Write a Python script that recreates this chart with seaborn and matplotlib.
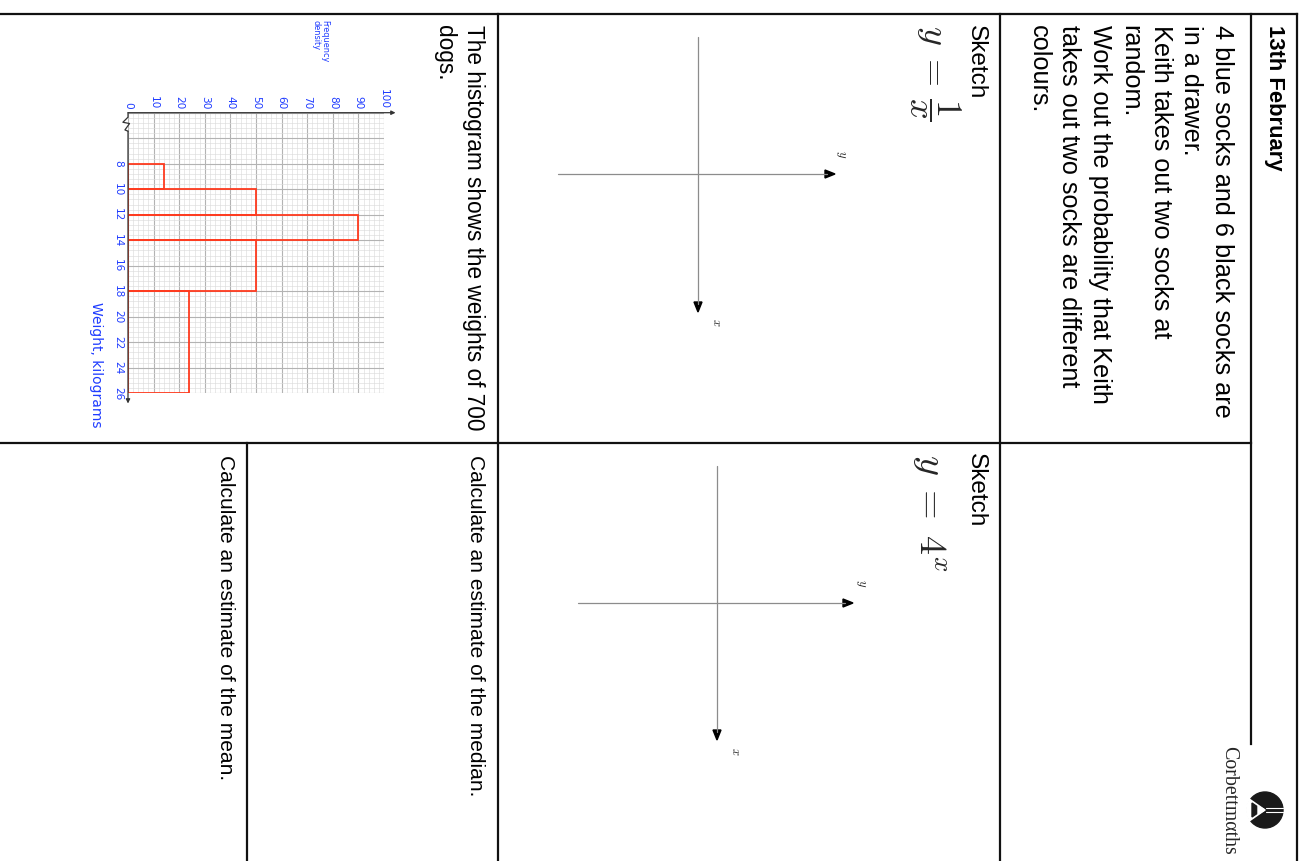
import numpy as np
import pandas as pd
import matplotlib
matplotlib.use("Agg")
import matplotlib.pyplot as plt
import seaborn as sns
from matplotlib.patches import Circle, Wedge, Polygon

# ---------------- data ----------------
bin_edges = [8, 10, 12, 14, 18, 26]            # weight, kilograms
freq_density = [14, 50, 90, 50, 24]             # frequency density of each class
fd_ticks = [0, 10, 20, 30, 40, 50, 60, 70, 80, 90, 100]
weight_ticks = [4, 6, 8, 10, 12, 14, 16, 18, 20, 22, 24, 26]
weight_labels = ["", "", "8", "10", "12", "14", "16", "18", "20", "22", "24", "26"]

title_text = "13th February"
q1_lines = ["4 blue socks and 6 black socks are", "in a drawer.",
            "Keith takes out two socks at", "random.",
            "Work out the probability that Keith",
            "takes out two socks are different", "colours."]
q5_lines = ["The histogram shows the weights of 700", "dogs."]
q6_text = "Calculate an estimate of the median."
q7_text = "Calculate an estimate of the mean."
sketch_text = "Sketch"
formula1 = r"$y\;=\,\dfrac{1}{x}$"
formula2 = r"$y\;=\;4^{x}$"
x_label = "Weight, kilograms"
fd_label = "Frequency\ndensity"
brand = "Corbettm\u03b1ths"

# ---------------- style ----------------
sns.set_style("white")
plt.rcParams["font.family"] = ["Liberation Sans", "DejaVu Sans"]
plt.rcParams["mathtext.fontset"] = "cm"

BLUE = "#1f3cff"
RED = "#ff3b1f"
W, H = 1305, 861
fig = plt.figure(figsize=(W / 100, H / 100), dpi=100)
fig.patch.set_facecolor("white")

page = fig.add_axes([0, 0, 1, 1])
page.set_xlim(0, W)
page.set_ylim(H, 0)
page.axis("off")

# worksheet frame
frame = [((0, 14), (1297, 14)), ((1297, 14), (1297, 861)),
         ((1251, 14), (1251, 744)), ((1000, 14), (1000, 861)),
         ((498, 14), (498, 861)), ((247, 443), (247, 861)),
         ((0, 443), (1251, 443))]
for (x0, y0), (x1, y1) in frame:
    page.plot([x0, x1], [y0, y1], color="#111111", lw=1.6, solid_capstyle="projecting")


def page_lines(x_right, y_top, lines, size, pitch, **kw):
    for i, s in enumerate(lines):
        page.text(x_right - i * pitch, y_top, s, rotation=-90, ha="right",
                  va="top", fontsize=size, color="black", **kw)


page_lines(1285, 25, [title_text], 15.8, 0, fontweight="bold")
page_lines(1234, 25, q1_lines, 18.2, 30.5)
page_lines(987, 25, [sketch_text], 17.6, 0)
page.text(962, 25, formula1, rotation=-90, ha="right", va="top", fontsize=26)
page_lines(987, 453, [sketch_text], 17.6, 0)
page.text(948, 454, formula2, rotation=-90, ha="right", va="top", fontsize=27.5)
page_lines(485, 25, q5_lines, 16.3, 29)
page_lines(485, 455, [q6_text], 15.1, 0)
page_lines(235, 455, [q7_text], 15.1, 0)


def sketch_axes(cx, cy, x0, x1, y0, y1, ylab, xlab):
    page.plot([x0, x1 - 8], [cy, cy], color="#8c8c8c", lw=0.9)
    page.plot([cx, cx], [y0, y1 - 8], color="#8c8c8c", lw=0.9)
    page.add_patch(Polygon([[x1, cy], [x1 - 10, cy - 4], [x1 - 10, cy + 4]],
                           closed=True, color="black"))
    page.add_patch(Polygon([[cx, y1], [cx - 4, y1 - 10], [cx + 4, y1 - 10]],
                           closed=True, color="black"))
    page.text(ylab[0], ylab[1], r"$y$", rotation=-90, ha="center", va="center", fontsize=9)
    page.text(xlab[0], xlab[1], r"$x$", rotation=-90, ha="center", va="center", fontsize=9)


sketch_axes(698, 174, 558, 835, 37, 312, (841, 154), (716, 322))
sketch_axes(717, 603, 578, 853, 466, 740, (861, 583), (735, 751))

# logo
page.text(1238, 746, brand, rotation=-90, ha="right", va="top", fontsize=14.3,
          family="Liberation Serif")
page.add_patch(Circle((1265, 810), 18, color="#1a1a1a"))
page.add_patch(Wedge((1265, 810), 19, 145, 215, color="white"))
page.add_patch(Polygon([[1252, 803], [1252, 817], [1262, 810]], closed=True, color="#1a1a1a"))
page.add_patch(Polygon([[1258, 806], [1258, 814], [1265, 810]], closed=True, color="white"))
page.plot([1266, 1283], [808, 808], color="white", lw=0.8)
page.plot([1266, 1283], [812, 812], color="white", lw=0.8)

# ---------------- histogram ----------------
hx0, hx1 = 128, 384
hy0, hy1 = 112.7, 393.3
hax = fig.add_axes([hx0 / W, 1 - hy1 / H, (hx1 - hx0) / W, (hy1 - hy0) / H])
mids = [(a + b) / 2 for a, b in zip(bin_edges[:-1], bin_edges[1:])]
df = pd.DataFrame({"weight": mids, "fd": freq_density})
sns.histplot(data=df, y="weight", weights="fd", bins=bin_edges, stat="count",
             element="bars", fill=False, color=RED, linewidth=1.3, ax=hax)

hax.set_facecolor("white")
hax.set_xlim(0, 100)
hax.set_ylim(26, 4)
hax.set_xticks(fd_ticks)
hax.set_xticks(np.arange(0, 101, 2), minor=True)
hax.set_yticks(weight_ticks)
hax.set_yticks(np.arange(4, 26.001, 0.4), minor=True)
hax.set_yticklabels(weight_labels)
hax.xaxis.tick_top()
hax.set_axisbelow(True)
hax.grid(which="major", color="#b3b3b3", lw=0.8)
hax.grid(which="minor", color="#dcdcdc", lw=0.45)
hax.tick_params(which="both", length=0)
hax.tick_params(axis="x", labelrotation=-90, labelcolor=BLUE, labelsize=7.6, pad=2.5)
hax.tick_params(axis="y", labelrotation=-90, labelcolor=BLUE, labelsize=7.6, pad=3.5)
for lbl in hax.get_xticklabels() + hax.get_yticklabels():
    lbl.set_family("DejaVu Sans")
for lbl in hax.get_yticklabels():
    lbl.set_va("center")
for s in hax.spines.values():
    s.set_visible(False)

hax.set_ylabel(x_label, rotation=-90, color=BLUE, fontsize=10, family="DejaVu Sans",
               ha="center", va="center")
hax.yaxis.set_label_coords(-0.125, 0.10)
hax.xaxis.set_label_position("top")
hax.set_xlabel(fd_label, rotation=-90, color=BLUE, fontsize=5.9, family="DejaVu Sans",
               ha="center", va="center", multialignment="left", linespacing=1.0)
hax.xaxis.set_label_coords(0.75, 1.255)

# axis arrows and break mark
akw = dict(arrowstyle="-|>", color="#333333", lw=0.9, mutation_scale=6,
           shrinkA=0, shrinkB=0)
hax.annotate("", xy=(104.5, 4), xytext=(0, 4), arrowprops=akw, annotation_clip=False)
hax.annotate("", xy=(0, 26.8), xytext=(0, 5.45), arrowprops=akw, annotation_clip=False)
hax.plot([0, 0, -2.0, 0.6, -1.2, 0], [4.0, 4.35, 4.75, 4.85, 5.35, 5.45],
         color="#333333", lw=0.9, clip_on=False)

fig.savefig("out.png", dpi=100, facecolor="white")
